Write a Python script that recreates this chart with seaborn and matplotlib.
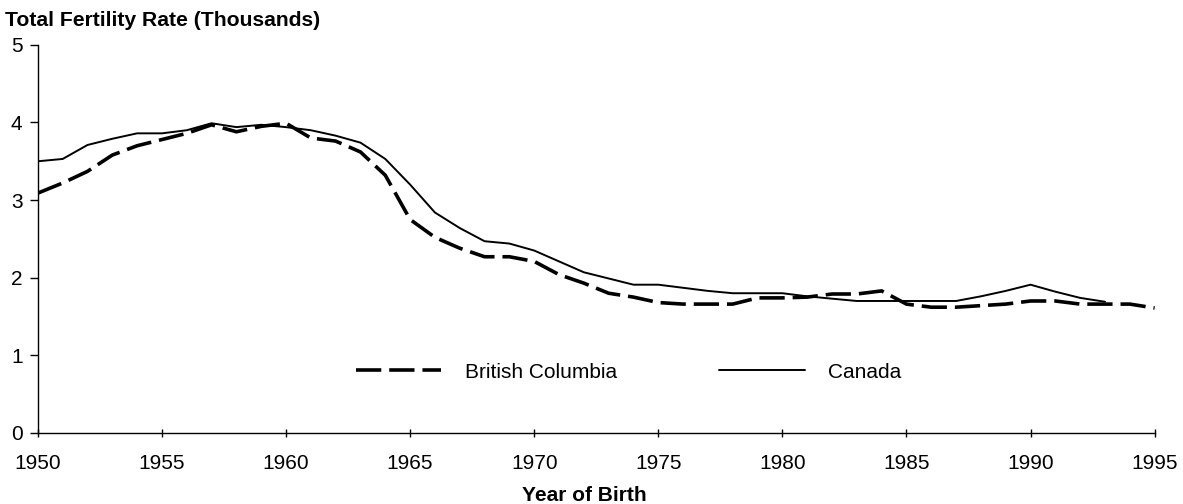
import numpy as np
import pandas as pd
import matplotlib
matplotlib.use("Agg")
import matplotlib.pyplot as plt
import seaborn as sns

years_bc = list(range(1950, 1996))
bc = [3.09, 3.22, 3.37, 3.58, 3.70, 3.78, 3.86, 3.97, 3.88, 3.95,
      3.99, 3.80, 3.76, 3.62, 3.32, 2.75, 2.52, 2.38, 2.27, 2.27,
      2.21, 2.04, 1.93, 1.80, 1.75, 1.68, 1.66, 1.66, 1.66, 1.74,
      1.74, 1.75, 1.79, 1.79, 1.83, 1.66, 1.62, 1.62, 1.64, 1.66,
      1.70, 1.70, 1.66, 1.66, 1.66, 1.61]

years_ca = list(range(1950, 1994))
canada = [3.50, 3.53, 3.71, 3.79, 3.86, 3.86, 3.90, 3.99, 3.94, 3.97,
          3.94, 3.90, 3.83, 3.74, 3.53, 3.20, 2.84, 2.64, 2.47, 2.44,
          2.35, 2.21, 2.07, 1.99, 1.91, 1.91, 1.87, 1.83, 1.80, 1.80,
          1.80, 1.76, 1.73, 1.70, 1.70, 1.70, 1.70, 1.70, 1.76, 1.83,
          1.91, 1.82, 1.74, 1.69]

series_names = ["British Columbia", "Canada"]
x_ticks = list(range(1950, 2000, 5))
y_ticks = [0, 1, 2, 3, 4, 5]

sns.set_theme(style="ticks")
plt.rcParams['font.family'] = ['Liberation Sans', 'DejaVu Sans']
plt.rcParams['text.color'] = 'black'
plt.rcParams['axes.labelcolor'] = 'black'

df_bc = pd.DataFrame({"year": years_bc, "rate": bc})
df_ca = pd.DataFrame({"year": years_ca, "rate": canada})

fig = plt.figure(figsize=(11.83, 5.04), dpi=100)
ax = fig.add_axes([0.032, 0.141, 0.944, 0.770])

sns.lineplot(data=df_bc, x="year", y="rate", ax=ax, color="black",
             linewidth=2.6, label=series_names[0])
ax.lines[-1].set_linestyle((0, (7, 2.2)))
sns.lineplot(data=df_ca, x="year", y="rate", ax=ax, color="black",
             linewidth=1.4, label=series_names[1])

ax.set_xlim(1950, 1995)
ax.set_ylim(0, 5)
ax.set_xticks(x_ticks)
ax.set_yticks(y_ticks)
ax.tick_params(axis='both', labelsize=15, colors='black', width=1)
ax.tick_params(axis='y', length=6, pad=5)
ax.tick_params(axis='x', direction='inout', length=6, pad=12)
for s in ["top", "right"]:
    ax.spines[s].set_visible(False)
for s in ["left", "bottom"]:
    ax.spines[s].set_color("black")
    ax.spines[s].set_linewidth(1)

ax.set_xlabel("Year of Birth", fontsize=15, fontweight="bold", color="black")
ax.xaxis.set_label_coords(0.489, -0.137)
ax.set_ylabel("")
fig.text(0.004, 0.96, "Total Fertility Rate (Thousands)", fontsize=15.2,
         fontweight="bold", ha="left", va="center", color="black")

leg = ax.legend(loc="center", bbox_to_anchor=(0.529, 0.157), ncol=2,
                frameon=False, fontsize=15, handlelength=4.1,
                columnspacing=4.9, handletextpad=1.15)
for t in leg.get_texts():
    t.set_color("black")

fig.savefig("out.png", dpi=100)
